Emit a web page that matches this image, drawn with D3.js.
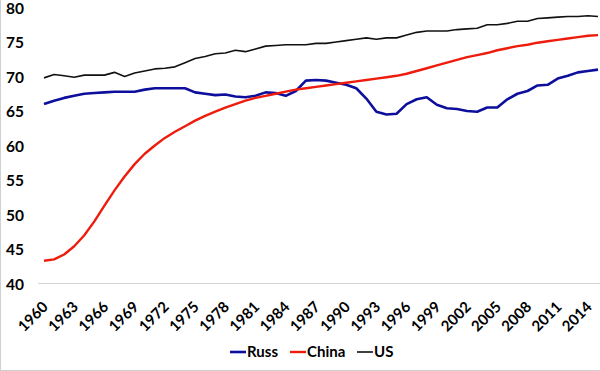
<!DOCTYPE html>
<html>
<head>
<meta charset="utf-8">
<script src="https://cdn.jsdelivr.net/npm/d3@7"></script>
<style>
  body { margin: 0; background: #fff; }
  svg { display: block; font-family: Lato, 'Open Sans', sans-serif; font-weight: bold; }
</style>
</head>
<body>
<svg width="600" height="371"></svg>
<script>
var years = d3.range(1960, 2016)

var russ = [
  66.0, 66.5, 66.9, 67.2, 67.5, 67.6, 67.7, 67.8, 67.8, 67.8,
  68.1, 68.3, 68.3, 68.3, 68.3, 67.7, 67.5, 67.3, 67.4, 67.1,
  67.0, 67.2, 67.7, 67.6, 67.2, 67.9, 69.4, 69.5, 69.4, 69.1,
  68.8, 68.3, 66.8, 64.9, 64.5, 64.6, 66.0, 66.7, 67.0, 65.9,
  65.4, 65.3, 65.0, 64.9, 65.5, 65.5, 66.7, 67.5, 67.9, 68.7,
  68.8, 69.7, 70.1, 70.6, 70.8, 71.0
]
var china = [
  43.3, 43.5, 44.2, 45.4, 47.0, 49.0, 51.3, 53.5, 55.5, 57.3,
  58.8, 60.0, 61.1, 62.0, 62.8, 63.6, 64.3, 64.9, 65.5, 66.0,
  66.5, 66.9, 67.2, 67.5, 67.8, 68.1, 68.3, 68.5, 68.7, 68.9,
  69.1, 69.3, 69.5, 69.7, 69.9, 70.1, 70.4, 70.8, 71.2, 71.6,
  72.0, 72.4, 72.8, 73.1, 73.4, 73.8, 74.1, 74.4, 74.6, 74.9,
  75.1, 75.3, 75.5, 75.7, 75.9, 76.0
]
var us = [
  69.8, 70.3, 70.1, 69.9, 70.2, 70.2, 70.2, 70.6, 70.0, 70.5,
  70.8, 71.1, 71.2, 71.4, 72.0, 72.6, 72.9, 73.3, 73.4, 73.8,
  73.6, 74.0, 74.4, 74.5, 74.6, 74.6, 74.6, 74.8, 74.8, 75.0,
  75.2, 75.4, 75.6, 75.4, 75.6, 75.6, 76.0, 76.4, 76.6, 76.6,
  76.6, 76.8, 76.9, 77.0, 77.5, 77.5, 77.7, 78.0, 78.0, 78.4,
  78.5, 78.6, 78.7, 78.7, 78.8, 78.7
]
var tickYears = d3.range(1960, 2016, 3)
var yTicks = [40, 45, 50, 55, 60, 65, 70, 75, 80]

var series = [
  { name: 'Russ', values: russ, color: '#0d0f9c', width: 2.6 },
  { name: 'China', values: china, color: '#ee1c0c', width: 2.4 },
  { name: 'US', values: us, color: '#111111', width: 1.6 }
]

var svg = d3.select('svg')

// chart frame (left + bottom edge visible)
svg.append('line').attr('x1', 0.5).attr('x2', 0.5).attr('y1', 0).attr('y2', 370)
  .attr('stroke', '#d0d0d0')
svg.append('line').attr('x1', 0).attr('x2', 600).attr('y1', 370.5).attr('y2', 370.5)
  .attr('stroke', '#d0d0d0')

var x = d3.scalePoint().domain(years).range([44, 598])
var y = d3.scaleLinear().domain([40, 80]).range([283.5, 7.5])

// baseline
svg.append('line')
  .attr('x1', 38).attr('x2', 600)
  .attr('y1', y(40)).attr('y2', y(40))
  .attr('stroke', '#d4d4d4').attr('stroke-width', 1.2)

// y axis labels
var yAxis = d3.axisLeft(y).tickValues(yTicks).tickSize(0).tickPadding(0)
svg.append('g')
  .attr('transform', 'translate(24,0)')
  .call(yAxis)
  .call(g => g.select('.domain').remove())
  .selectAll('text')
  .attr('font-size', 15.5)
  .attr('font-family', 'Lato, sans-serif')
  .attr('font-weight', 'bold')
  .attr('fill', '#000')
  .attr('dy', '0.36em')

// x axis labels
var xAxis = d3.axisBottom(x).tickValues(tickYears).tickSize(0).tickPadding(0)
svg.append('g')
  .attr('transform', 'translate(0,' + y(40) + ')')
  .call(xAxis)
  .call(g => g.select('.domain').remove())
  .selectAll('text')
  .attr('font-size', 15)
  .attr('font-family', 'Lato, sans-serif')
  .attr('font-weight', 'bold')
  .attr('fill', '#000')
  .attr('text-anchor', 'end')
  .attr('dy', '0.7em')
  .attr('transform', 'translate(-3,17) rotate(-45)')

// lines
var line = d3.line()
  .x((d, i) => x(years[i]))
  .y(d => y(d))

series.forEach(s => {
  svg.append('path')
    .datum(s.values)
    .attr('fill', 'none')
    .attr('stroke', s.color)
    .attr('stroke-width', s.width)
    .attr('stroke-linejoin', 'round')
    .attr('d', line)
})

// legend
var legendPos = [230, 290, 357]
var legend = svg.append('g').attr('transform', 'translate(0,352)')
series.forEach((s, i) => {
  var g = legend.append('g').attr('transform', 'translate(' + legendPos[i] + ',0)')
  g.append('line')
    .attr('x1', 0).attr('x2', 16)
    .attr('stroke', s.color)
    .attr('stroke-width', s.width)
  g.append('text')
    .attr('x', 17)
    .attr('dy', '0.35em')
    .attr('font-size', 15)
    .text(s.name)
})
</script>
</body>
</html>
